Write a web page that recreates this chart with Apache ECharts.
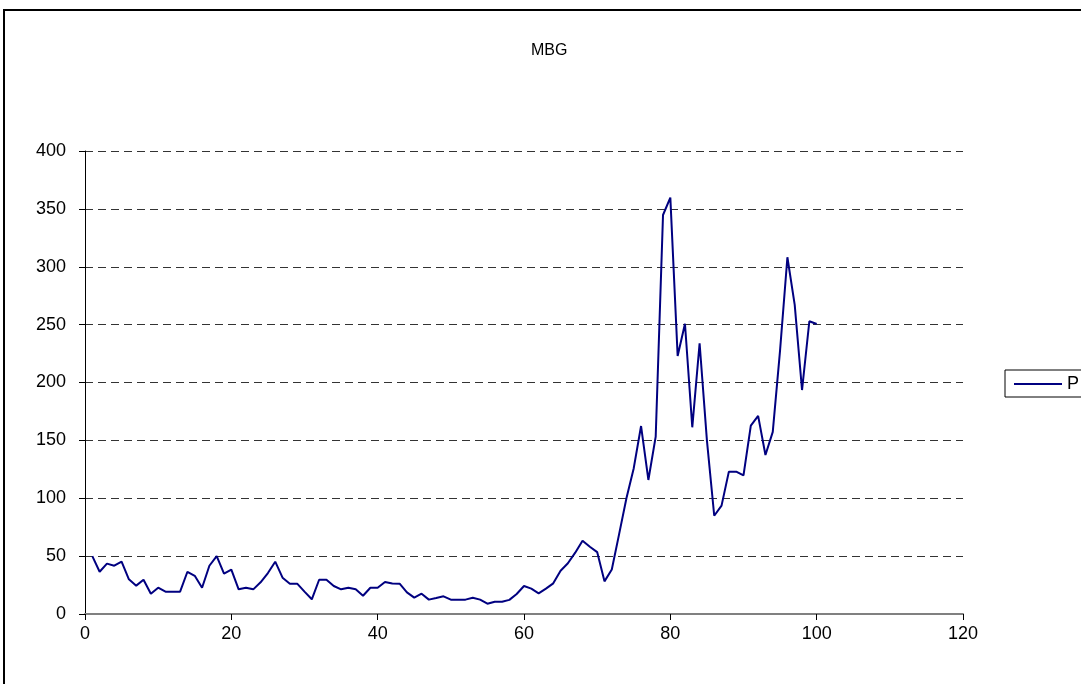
<!DOCTYPE html>
<html>
<head>
<meta charset="utf-8">
<script src="https://cdn.jsdelivr.net/npm/echarts@6/dist/echarts.min.js"></script>
<style>html,body{margin:0;padding:0;background:#fff}#c{width:1081px;height:684px}</style>
</head>
<body>
<div id="c"></div>
<script>
const title = 'MBG';
const seriesName = 'P';
const xValues = [1,2,3,4,5,6,7,8,9,10,11,12,13,14,15,16,17,18,19,20,21,22,23,24,25,26,27,28,29,30,31,32,33,34,35,36,37,38,39,40,41,42,43,44,45,46,47,48,49,50,51,52,53,54,55,56,57,58,59,60,61,62,63,64,65,66,67,68,69,70,71,72,73,74,75,76,77,78,79,80,81,82,83,84,85,86,87,88,89,90,91,92,93,94,95,96,97,98,99,100];
const yValues = [50,36.5,43.5,41.7,45.2,30,24.5,29.6,17.5,22.7,19.3,19.3,19.3,36.5,33,22.7,41.7,50,34.8,38.3,
  21.3,22.7,21.3,27.4,35.4,45.2,31.4,26.2,26.2,19.3,12.7,29.6,29.6,24.2,21.3,22.7,21.3,15.8,22.7,22.7,
  27.7,26.4,26.2,18.7,14.1,17.5,12.4,13.8,15.3,12.4,12.4,12.4,14.1,12.4,8.9,10.6,10.6,12.2,17.3,24.2,
  21.9,17.9,21.9,26.5,37.4,43.8,53,63.3,58.1,53.5,28.2,38.5,69,100,126,162.4,115.8,153.2,344.7,359.7,
  222.9,250.8,161.3,233.9,150,84.9,93.6,123,123,119.7,162.7,171.2,137.4,157.3,228,308.2,267,193.5,252.9,250.5];
const xTicks = {min: 0, max: 120, interval: 20};
const yTicks = {min: 0, max: 400, interval: 50};

const chart = echarts.init(document.getElementById('c'), null, {renderer: 'canvas'});
chart.setOption({
  backgroundColor: '#fff',
  animation: false,
  title: {
    text: title, left: 526, top: 38,
    textStyle: {fontFamily: 'Liberation Sans Narrow, Liberation Sans, Arial', fontSize: 16, fontWeight: 'normal', color: '#000'}
  },
  graphic: [{
    type: 'rect', silent: true,
    shape: {x: 4, y: 10, width: 1200, height: 800},
    style: {fill: 'none', stroke: '#000', lineWidth: 2}
  }],
  legend: {
    left: 1005, top: 370, orient: 'vertical',
    padding: [5, 40, 4, 9],
    borderColor: '#000', borderWidth: 1,
    itemWidth: 48, itemHeight: 14,
    textStyle: {fontFamily: 'Liberation Sans, Arial', fontSize: 18, color: '#000'},
    data: [{name: seriesName, icon: 'path://M0,6 L48,6 L48,8 L0,8 Z'}]
  },
  grid: {left: 85, right: 118, top: 151, bottom: 70},
  xAxis: {
    type: 'value', min: xTicks.min, max: xTicks.max, interval: xTicks.interval,
    axisLine: {show: true, onZero: false, lineStyle: {color: '#808080', width: 2}},
    axisTick: {show: true, length: 6, lineStyle: {color: '#000', width: 1}},
    axisLabel: {color: '#000', fontSize: 18, fontFamily: 'Liberation Sans, Arial', margin: 11},
    splitLine: {show: false}
  },
  yAxis: {
    type: 'value', min: yTicks.min, max: yTicks.max, interval: yTicks.interval,
    axisLine: {show: true, lineStyle: {color: '#000', width: 1}},
    axisTick: {show: true, length: 6, lineStyle: {color: '#000', width: 1}},
    axisLabel: {color: '#000', fontSize: 18, fontFamily: 'Liberation Sans, Arial', margin: 19},
    splitLine: {show: true, lineStyle: {color: '#333', width: 1, type: [8, 5]}}
  },
  series: [{
    name: seriesName, type: 'line',
    data: xValues.map((x, i) => [x, yValues[i]]),
    symbol: 'none', showSymbol: false,
    lineStyle: {color: '#000080', width: 2},
    itemStyle: {color: '#000080'}
  }]
});
</script>
</body>
</html>
